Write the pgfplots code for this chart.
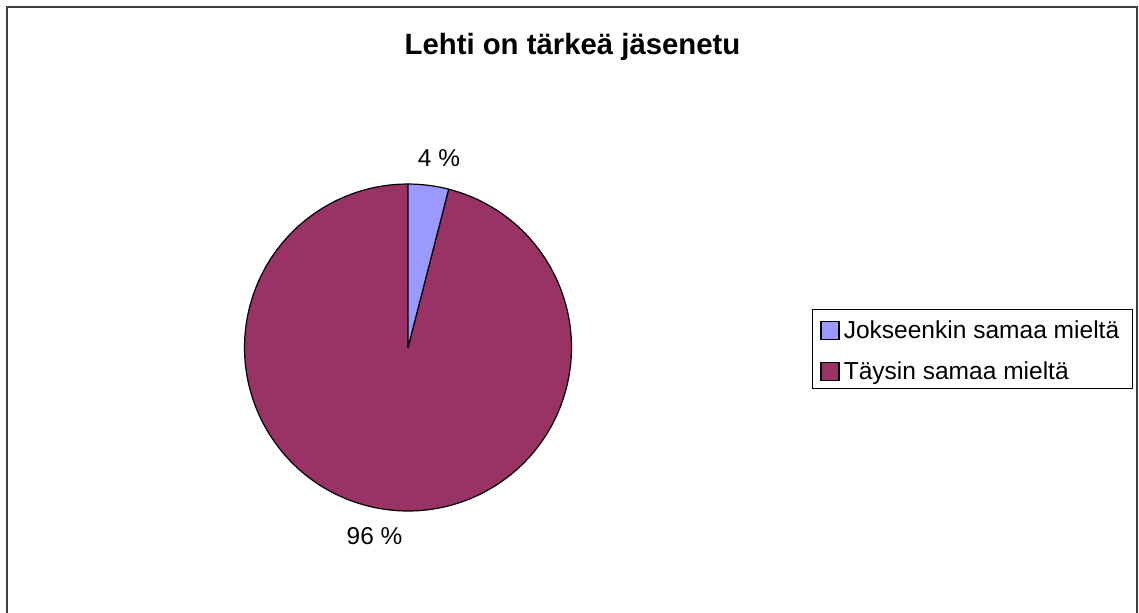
\documentclass[border=0pt]{standalone}
\usepackage{pgfplots}
\pgfplotsset{compat=1.18}
\usepackage{pgfplotstable}
\usepackage{fontspec}
\setmainfont{Liberation Sans}
\definecolor{sliceA}{HTML}{9999FF}
\definecolor{sliceB}{HTML}{993366}
\definecolor{framegray}{HTML}{404040}
\pgfplotstableread{
slice value
1 4
2 96
}\pietable
\begin{document}
\begin{tikzpicture}
\pgfplotstablegetelem{0}{value}\of\pietable \let\va\pgfplotsretval
\pgfplotstablegetelem{1}{value}\of\pietable \let\vb\pgfplotsretval
\pgfmathsetmacro\total{\va+\vb}
\pgfmathsetmacro\aA{90-360*\va/\total}
\begin{axis}[x=0.75pt,y=0.75pt,xmin=0,xmax=1139,ymin=0,ymax=613,y dir=reverse,
  hide axis,clip=false,scale only axis]
\coordinate (bl) at (axis cs:0,613);
\coordinate (tr) at (axis cs:1139,0);
\draw[framegray,line width=1.5pt] (axis cs:7,7) rectangle (axis cs:1137,625);
% slices
\filldraw[fill=sliceB,draw=black,line width=0.9pt,line join=round]
  (axis cs:408,347.5) -- ++(\aA:122.6pt) arc[start angle=\aA, end angle=-270, radius=122.6pt] -- cycle;
\filldraw[fill=sliceA,draw=black,line width=0.9pt,line join=round]
  (axis cs:408,347.5) -- ++(90:122.6pt) arc[start angle=90, end angle=\aA, radius=122.6pt] -- cycle;
% title
\node[anchor=base,font=\bfseries\fontsize{22}{26}\selectfont,inner sep=0pt] at (axis cs:572.5,55) {Lehti on tärkeä jäsenetu};
% labels
\node[anchor=base,font=\fontsize{18.3}{22}\selectfont,inner sep=0pt] at (axis cs:439,167) {\pgfmathprintnumber[assume math mode=true]{\va} \%};
\node[anchor=base,font=\fontsize{18.3}{22}\selectfont,inner sep=0pt] at (axis cs:374.5,544) {\pgfmathprintnumber[assume math mode=true]{\vb} \%};
% legend
\draw[black,line width=0.75pt] (axis cs:812,309) rectangle (axis cs:1132,388);
\filldraw[fill=sliceA,draw=black,line width=0.9pt] (axis cs:821,321.5) rectangle (axis cs:839,339.5);
\filldraw[fill=sliceB,draw=black,line width=0.9pt] (axis cs:821,362.5) rectangle (axis cs:839,380.5);
\node[anchor=base west,font=\fontsize{18.4}{22}\selectfont,inner sep=0pt] at (axis cs:843.5,338.5) {Jokseenkin samaa mieltä};
\node[anchor=base west,font=\fontsize{18.4}{22}\selectfont,inner sep=0pt] at (axis cs:843.5,379.5) {Täysin samaa mieltä};
\end{axis}
\pgfresetboundingbox
\useasboundingbox (bl) rectangle (tr);
\end{tikzpicture}
\end{document}
